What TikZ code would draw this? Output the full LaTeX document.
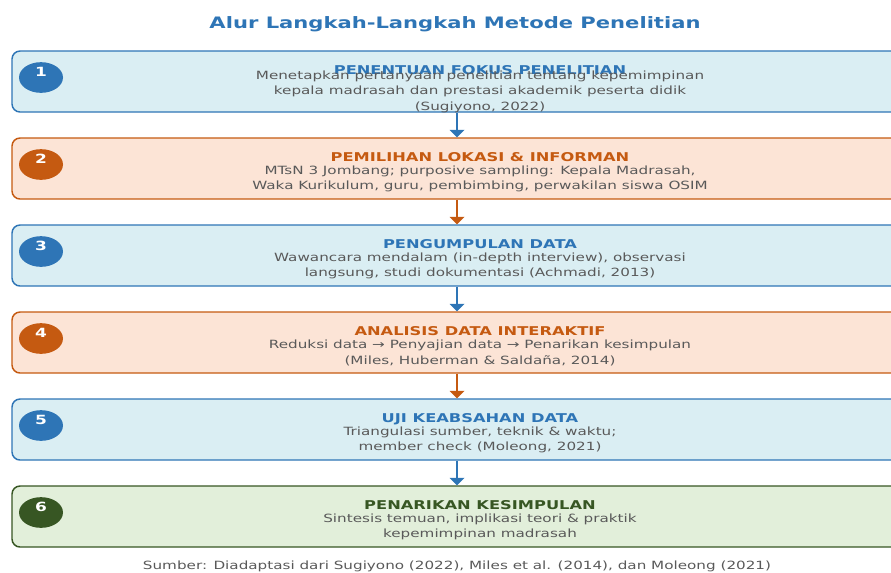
\documentclass[tikz,border=0pt]{standalone}
\usepackage{fontspec}
\setmainfont{DejaVu Sans}[FakeStretch=1.34]
\usepackage{tikz}
\usetikzlibrary{shapes.geometric, calc, arrows.meta, positioning}
\usepackage{xcolor}
\definecolor{stepblue}{HTML}{2E75B6}
\definecolor{stepbluefill}{HTML}{DAEEF3}
\definecolor{steporange}{HTML}{C55A11}
\definecolor{steporangefill}{HTML}{FCE4D6}
\definecolor{stepgreen}{HTML}{375623}
\definecolor{stepgreenfill}{HTML}{E2EFDA}
\definecolor{descgray}{HTML}{595959}

\begin{document}
\begin{tikzpicture}[x=0.75pt, y=-0.75pt,
    stepbox/.style={draw=#1, fill=#1fill, line width=1.1pt, rounded corners=6pt,
      minimum width=702pt, minimum height=45.75pt, inner sep=0pt},
    numdot/.style={ellipse, fill=#1, minimum width=33pt, minimum height=23pt, inner sep=0pt},
    numtext/.style={anchor=base, text=white, inner sep=0pt, font=\fontsize{9.5}{11}\selectfont\bfseries},
    steptitle/.style={anchor=base, text=#1, inner sep=0pt, font=\fontsize{9.1}{11}\selectfont\bfseries},
    stepdesc/.style={align=center, text=descgray, inner sep=0pt, font=\fontsize{8.5}{11.6}\selectfont},
    flow/.style={draw=#1, line width=1.1pt, -{Triangle[width=11pt,length=5.5pt]}}]
  \useasboundingbox (0,0) rectangle (891,572);
  \clip (0,0) rectangle (891,572);

  % heading
  \node[anchor=base, text=stepblue, inner sep=0pt, font=\fontsize{11.8}{14}\selectfont\bfseries]
    (head) at (455,28) {Alur Langkah-Langkah Metode Penelitian};

  % six step boxes, each with its numbered dot
  \foreach \i/\col in {1/stepblue,2/steporange,3/stepblue,4/steporange,5/stepblue,6/stepgreen} {
    \pgfmathsetmacro\top{51+87*(\i-1)}
    \node[stepbox=\col] (s\i) at (480,{\top+30.5}) {};
    \node[numdot=\col] (n\i) at (41,{\top+26.5}) {};
    \node[numtext] (k\i) at (41,{\top+25}) {\i};
  }

  % step titles and descriptions
  \node[steptitle=stepblue] (t1) at ($(s1.north)+(0,24.4)$) {PENENTUAN FOKUS PENELITIAN};
  \node[stepdesc] (d1) at ($(s1.north)+(0,41.5)$)
    {Menetapkan pertanyaan penelitian tentang kepemimpinan\\
     kepala madrasah dan prestasi akademik peserta didik\\(Sugiyono, 2022)};

  \node[steptitle=steporange] (t2) at ($(s2.north)+(0,24.4)$) {PEMILIHAN LOKASI \& INFORMAN};
  \node[stepdesc] (d2) at ($(s2.north)+(0,41.5)$)
    {MTsN 3 Jombang; purposive sampling: Kepala Madrasah,\\
     Waka Kurikulum, guru, pembimbing, perwakilan siswa OSIM};

  \node[steptitle=stepblue] (t3) at ($(s3.north)+(0,24.4)$) {PENGUMPULAN DATA};
  \node[stepdesc] (d3) at ($(s3.north)+(0,41.5)$)
    {Wawancara mendalam (in-depth interview), observasi\\
     langsung, studi dokumentasi (Achmadi, 2013)};

  \node[steptitle=steporange] (t4) at ($(s4.north)+(0,24.4)$) {ANALISIS DATA INTERAKTIF};
  \node[stepdesc] (d4) at ($(s4.north)+(0,41.5)$)
    {Reduksi data → Penyajian data → Penarikan kesimpulan\\
     (Miles, Huberman \& Saldaña, 2014)};

  \node[steptitle=stepblue] (t5) at ($(s5.north)+(0,24.4)$) {UJI KEABSAHAN DATA};
  \node[stepdesc] (d5) at ($(s5.north)+(0,41.5)$)
    {Triangulasi sumber, teknik \& waktu;\\member check (Moleong, 2021)};

  \node[steptitle=stepgreen] (t6) at ($(s6.north)+(0,24.4)$) {PENARIKAN KESIMPULAN};
  \node[stepdesc] (d6) at ($(s6.north)+(0,41.5)$)
    {Sintesis temuan, implikasi teori \& praktik\\kepemimpinan madrasah};

  % arrows between the steps
  \draw[flow=stepblue] ([xshift=-17.25pt]s1.south) -- ([xshift=-17.25pt]s2.north);
  \draw[flow=steporange] ([xshift=-17.25pt]s2.south) -- ([xshift=-17.25pt]s3.north);
  \draw[flow=stepblue] ([xshift=-17.25pt]s3.south) -- ([xshift=-17.25pt]s4.north);
  \draw[flow=steporange] ([xshift=-17.25pt]s4.south) -- ([xshift=-17.25pt]s5.north);
  \draw[flow=stepblue] ([xshift=-17.25pt]s5.south) -- ([xshift=-17.25pt]s6.north);

  % source line
  \node[anchor=base, text=descgray, inner sep=0pt, font=\fontsize{8.5}{10}\selectfont]
    (src) at (457,569) {Sumber: Diadaptasi dari Sugiyono (2022), Miles et al. (2014), dan Moleong (2021)};
\end{tikzpicture}
\end{document}
